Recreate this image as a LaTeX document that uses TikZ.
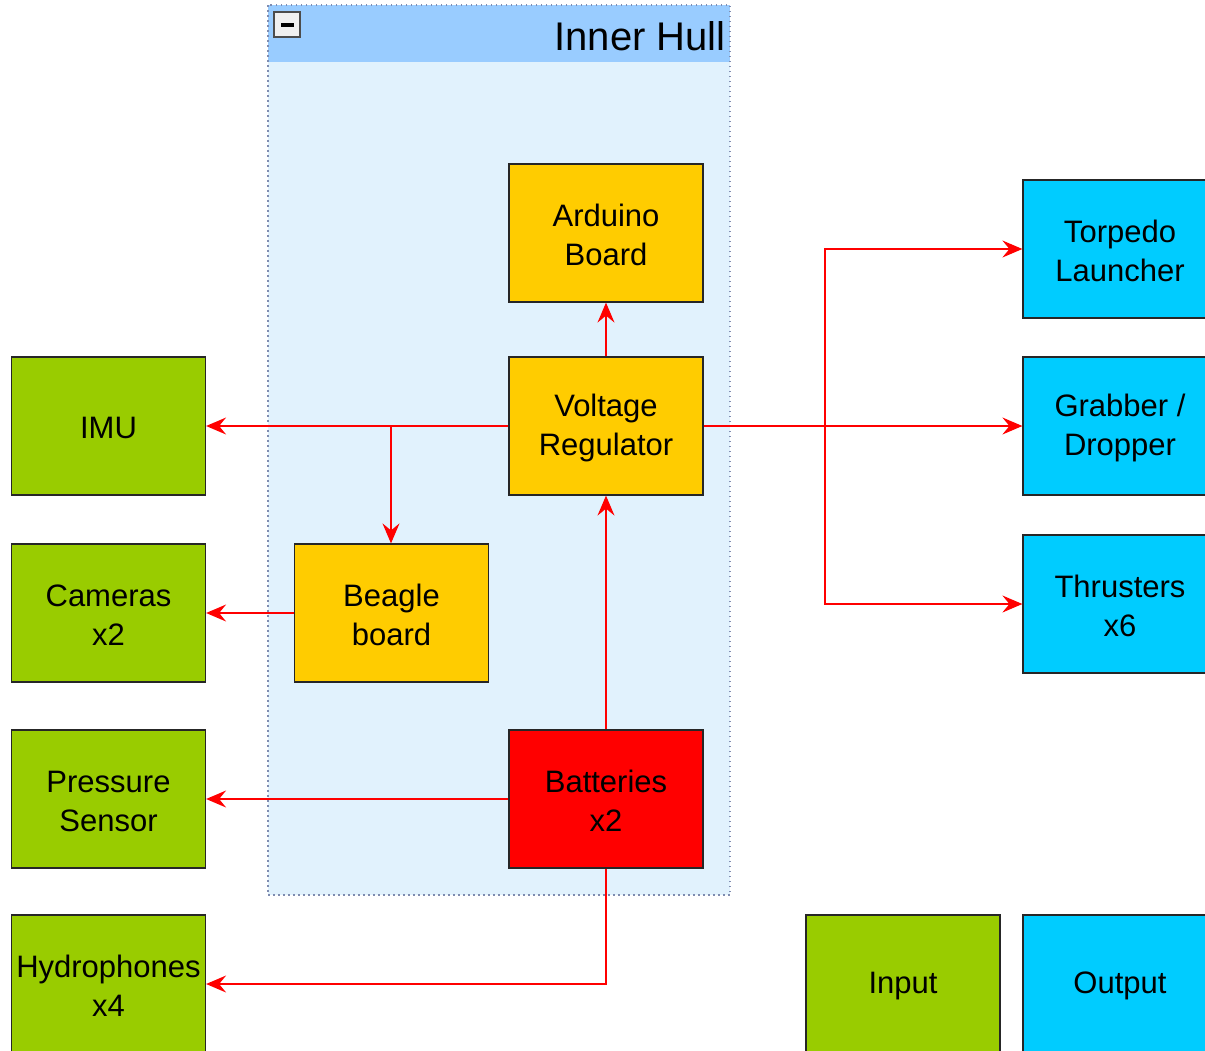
\documentclass[tikz,border=0pt]{standalone}
\usepackage{fontspec}
\setmainfont{Liberation Sans}
\usetikzlibrary{arrows.meta,positioning,calc}
\definecolor{cyel}{HTML}{FFCC00}
\definecolor{cgrn}{HTML}{99CC00}
\definecolor{ccyan}{HTML}{00CCFF}
\definecolor{cred}{HTML}{FF0000}
\definecolor{chead}{HTML}{99CCFF}
\definecolor{cbody}{HTML}{E1F2FD}
\definecolor{cdot}{HTML}{7F8CB0}
\tikzset{
  blk/.style={draw=black!85, line width=1.2pt, minimum width=194pt, minimum height=138pt, inner sep=0pt},
  txt/.style={align=center, font=\fontsize{31}{39}\selectfont, inner sep=0pt},
  yel/.style={blk, fill=cyel},
  grn/.style={blk, fill=cgrn},
  cyn/.style={blk, fill=ccyan},
  rd/.style={blk, fill=cred},
  wire/.style={draw=cred, line width=1.4pt, -{Stealth[length=20pt,width=17pt,inset=7pt]}}
}
\newcommand{\boxnode}[4]{%
  \node[#1] (#2) at (#3) {};
  \node[txt] (#2-t) at ([yshift=-2pt]#2.center) {#4};
}
\begin{document}
\begin{tikzpicture}[x=1pt,y=-1pt]
\useasboundingbox (0,0) rectangle (1205,1050);
% container
\fill[cbody] (268,62) rectangle (730,895);
\fill[chead] (268,5) rectangle (730,62);
\draw[cdot, line width=1.5pt, dash pattern=on 1.5pt off 3.5pt] (268,5) rectangle (730,895);
\node[anchor=base east, font=\fontsize{40}{42}\selectfont, inner sep=0pt] (title) at (726,50) {Inner Hull};
\draw[fill=gray!12, draw=gray!60!black, line width=1.2pt] (274,12) rectangle (300,37);
\draw[line width=4pt] (281,24.5) -- (294,24.5);
% nodes
\boxnode{yel}{ard}{606,233}{Arduino\\Board}
\boxnode{yel}{vr}{606,426}{Voltage\\Regulator}
\boxnode{yel}{bgl}{391.5,613}{Beagle\\board}
\boxnode{rd}{bat}{606,799}{Batteries\\x2}
\boxnode{grn}{imu}{108.5,426}{IMU}
\boxnode{grn}{cam}{108.5,613}{Cameras\\x2}
\boxnode{grn}{prs}{108.5,799}{Pressure\\Sensor}
\boxnode{grn}{hyd}{108.5,984}{Hydrophones\\x4}
\boxnode{cyn}{trp}{1120,249}{Torpedo\\Launcher}
\boxnode{cyn}{grb}{1120,426}{Grabber /\\Dropper}
\boxnode{cyn}{thr}{1120,604}{Thrusters\\x6}
\boxnode{grn}{inp}{903,984}{Input}
\boxnode{cyn}{out}{1120,984}{Output}
% connectors
\coordinate (jl) at (391,426);
\coordinate (jr) at (825,426);
\draw[wire] (vr.north) -- (ard.south);
\draw[wire] (vr.west) -- (imu.east);
\draw[wire] (jl) -- (bgl.north -| jl);
\draw[wire] (bgl.west) -- (cam.east);
\draw[wire] (bat.north) -- (vr.south);
\draw[wire] (bat.west) -- (prs.east);
\draw[wire] (bat.south) |- (hyd.east);
\draw[wire] (vr.east) -- (grb.west);
\draw[wire] (jr) |- (trp.west);
\draw[wire] (jr) |- (thr.west);
\end{tikzpicture}
\end{document}
